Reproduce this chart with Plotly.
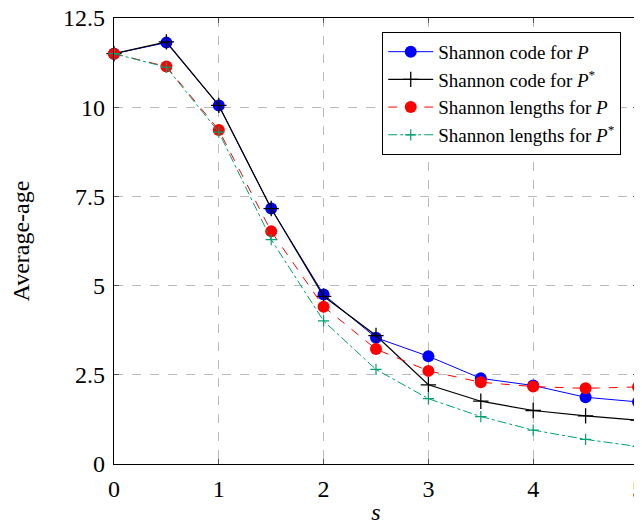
import plotly.graph_objects as go

s = [0, 0.5, 1, 1.5, 2, 2.5, 3, 3.5, 4, 4.5, 5]
code_P = [11.5, 11.81, 10.05, 7.16, 4.75, 3.54, 3.02, 2.40, 2.20, 1.87, 1.74]
code_Pstar = [11.5, 11.83, 10.05, 7.16, 4.70, 3.60, 2.22, 1.76, 1.50, 1.35, 1.23]
len_P = [11.5, 11.14, 9.36, 6.52, 4.41, 3.22, 2.61, 2.29, 2.17, 2.12, 2.16]
len_Pstar = [11.5, 11.12, 9.30, 6.29, 4.01, 2.65, 1.83, 1.33, 0.95, 0.69, 0.49]

names = ["Shannon code for <i>P</i>",
         "Shannon code for <i>P</i><sup>*</sup>",
         "Shannon lengths for <i>P</i>",
         "Shannon lengths for <i>P</i><sup>*</sup>"]

fig = go.Figure()
fig.add_trace(go.Scatter(x=s, y=code_P, name=names[0], mode="lines+markers",
                         cliponaxis=False,
                         line=dict(color="#0000ff", width=1),
                         marker=dict(symbol="circle", size=12, color="#0000ff")))
fig.add_trace(go.Scatter(x=s, y=code_Pstar, name=names[1], mode="lines+markers",
                         cliponaxis=False,
                         line=dict(color="black", width=1.2),
                         marker=dict(symbol="cross-thin", size=11,
                                     line=dict(color="black", width=1.3))))
fig.add_trace(go.Scatter(x=s, y=len_P, name=names[2], mode="lines+markers",
                         cliponaxis=False,
                         line=dict(color="#ff0000", width=1, dash="dash"),
                         marker=dict(symbol="circle", size=12, color="#ff0000")))
fig.add_trace(go.Scatter(x=s, y=len_Pstar, name=names[3], mode="lines+markers",
                         cliponaxis=False,
                         line=dict(color="#00a070", width=1, dash="dashdot"),
                         marker=dict(symbol="cross-thin", size=8,
                                     line=dict(color="#00a070", width=1.2))))

axis_common = dict(showline=True, linecolor="black", linewidth=1.2, mirror="ticks",
                   ticks="inside", ticklen=5, tickcolor="#555", automargin=False,
                   showgrid=True, gridcolor="#bbbbbb", griddash="dash", gridwidth=1,
                   zeroline=False, tickfont=dict(size=24, color="black"),
                   ticklabelstandoff=3, ticklabeloverflow="allow")

fig.update_xaxes(range=[0, 5], tickvals=[0, 1, 2, 3, 4, 5],
                 title=dict(text="<i>s</i>", font=dict(size=24), standoff=2),
                 **axis_common)
fig.update_yaxes(range=[0, 12.5], tickvals=[0, 2.5, 5, 7.5, 10, 12.5],
                 ticktext=["0", "2.5", "5", "7.5", "10", "12.5"],
                 title=dict(text="Average-age", font=dict(size=24), standoff=38),
                 **axis_common)

fig.update_layout(
    width=634, height=519,
    margin=dict(l=106, r=4, t=10, b=63, autoexpand=False),
    plot_bgcolor="white", paper_bgcolor="white",
    font=dict(family="Liberation Serif, DejaVu Serif, serif", color="black"),
    legend=dict(x=0.968, y=0.969, xanchor="right", yanchor="top",
                bgcolor="white", bordercolor="black", borderwidth=1,
                font=dict(size=19), tracegroupgap=0, itemwidth=45),
    showlegend=True,
)

fig.write_html("out.html")
